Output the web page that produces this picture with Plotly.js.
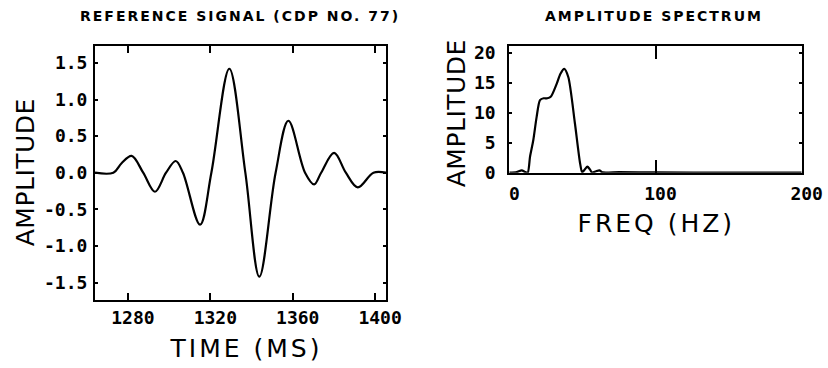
<!DOCTYPE html>
<html>
<head>
<meta charset="utf-8">
<script src="https://cdn.plot.ly/plotly-3.0.1.min.js"></script>
<style>
html,body{margin:0;padding:0;background:#fff;}
#chart{width:828px;height:368px;}
.annotation[data-index="0"] text, .annotation[data-index="1"] text {letter-spacing:2px;}
.annotation[data-index="2"] text, .annotation[data-index="4"] text {letter-spacing:3px;}
.annotation[data-index="3"] text, .annotation[data-index="5"] text {letter-spacing:0.5px;}
</style>
</head>
<body>
<div id="chart"></div>
<script>
// Reference signal (CDP No. 77): flat start, then peaks, troughs and zero crossings
var timeMs = [1264, 1272.9, 1276.9, 1281.8, 1287.4, 1293.1, 1298.5, 1303.2, 1306.7, 1315.0, 1320.5, 1329.2, 1337.0, 1343.8, 1351.7, 1357.9, 1366.0, 1370.4, 1373.8, 1380.1, 1385.8, 1391.6, 1399.2, 1405.3];
var signalAmp = [0, 0, 0.13, 0.23, 0, -0.26, 0, 0.16, 0, -0.71, 0, 1.42, 0, -1.42, 0, 0.71, 0, -0.16, 0, 0.27, 0, -0.20, 0, 0];

// Amplitude spectrum
var freqHz = [0, 5, 8.5, 11, 12.6, 14.2, 16.4, 18.7, 21, 23.5, 26, 28.5, 32.4, 35, 37.6, 40.4, 44.9, 48.4, 49.8, 51.5, 53.4, 55, 56.5, 59, 61.6, 64, 75, 100, 150, 200];
var specAmp = [0, 0.1, 0.4, 0.1, 0, 2.7, 5.4, 9.3, 12.1, 12.4, 12.4, 12.7, 14.8, 16.5, 17.3, 15.9, 8.2, 1.6, 0.1, 0.5, 1.0, 0.6, 0.05, 0.2, 0.4, 0.05, 0.1, 0.05, 0, 0];

var timeTicks = [1280, 1320, 1360, 1400];
var ampTicks = [-1.5, -1.0, -0.5, 0.0, 0.5, 1.0, 1.5];
var ampTickText = ['-1.5', '-1.0', '-0.5', '0.0', '0.5', '1.0', '1.5'];
var freqTicks = [0, 100, 200];
var specTicks = [0, 5, 10, 15, 20];

var tickFont = {family: 'DejaVu Sans Mono', size: 18, color: '#000', weight: 'bold'};
var bigFont = {family: 'DejaVu Sans', size: 25, color: '#000'};
var titleFont = {family: 'DejaVu Sans', size: 14, color: '#000', weight: 'bold'};

var traces = [
  {x: timeMs, y: signalAmp, xaxis: 'x', yaxis: 'y', type: 'scatter', mode: 'lines',
   line: {color: '#000', width: 2.2, shape: 'spline', smoothing: 1}, hoverinfo: 'skip'},
  {x: freqHz, y: specAmp, xaxis: 'x2', yaxis: 'y2', type: 'scatter', mode: 'lines',
   line: {color: '#000', width: 2.2, shape: 'spline', smoothing: 0.7}, hoverinfo: 'skip'}
];

var axBase = {showgrid: false, zeroline: false, showline: true, linecolor: '#000', linewidth: 2,
  mirror: 'ticks', ticks: 'inside', tickcolor: '#000', tickwidth: 2, tickfont: tickFont, fixedrange: true};

var layout = {
  width: 828, height: 368,
  margin: {l: 0, r: 0, t: 0, b: 0},
  paper_bgcolor: '#fff', plot_bgcolor: '#fff',
  showlegend: false,
  xaxis: Object.assign({}, axBase, {domain: [95/828, 386/828], range: [1264, 1405.3],
    tickvals: timeTicks, ticklen: 7, anchor: 'y', ticklabelstandoff: 1, ticklabelshift: 5}),
  yaxis: Object.assign({}, axBase, {domain: [68.5/368, 322/368], range: [-1.732, 1.731],
    tickvals: ampTicks, ticktext: ampTickText, ticklen: 3, anchor: 'x', ticklabelstandoff: 2}),
  xaxis2: Object.assign({}, axBase, {domain: [509.3/828, 801.7/828], range: [0, 200],
    tickvals: freqTicks, ticklen: 13, anchor: 'y2', ticklabelstandoff: 4, ticklabelshift: 5}),
  yaxis2: Object.assign({}, axBase, {domain: [195.3/368, 322.5/368], range: [0, 21.2],
    tickvals: specTicks, ticklen: 3, anchor: 'x2', ticklabelstandoff: 8}),
  annotations: [
    {text: 'REFERENCE SIGNAL (CDP NO. 77)', xref: 'paper', yref: 'paper', x: 240/828, y: 1 - 16/368,
     xanchor: 'center', yanchor: 'middle', showarrow: false, font: titleFont},
    {text: 'AMPLITUDE SPECTRUM', xref: 'paper', yref: 'paper', x: 654/828, y: 1 - 16/368,
     xanchor: 'center', yanchor: 'middle', showarrow: false, font: titleFont},
    {text: 'TIME (MS)', xref: 'paper', yref: 'paper', x: 246/828, y: 1 - 348/368,
     xanchor: 'center', yanchor: 'middle', showarrow: false, font: bigFont},
    {text: 'AMPLITUDE', xref: 'paper', yref: 'paper', x: 25/828, y: 1 - 172/368, textangle: -90,
     xanchor: 'center', yanchor: 'middle', showarrow: false, font: bigFont},
    {text: 'FREQ (HZ)', xref: 'paper', yref: 'paper', x: 656/828, y: 1 - 223/368,
     xanchor: 'center', yanchor: 'middle', showarrow: false, font: bigFont},
    {text: 'AMPLITUDE', xref: 'paper', yref: 'paper', x: 457/828, y: 1 - 113/368, textangle: -90,
     xanchor: 'center', yanchor: 'middle', showarrow: false, font: bigFont}
  ]
};

Plotly.newPlot('chart', traces, layout, {staticPlot: true, displayModeBar: false});
</script>
</body>
</html>
